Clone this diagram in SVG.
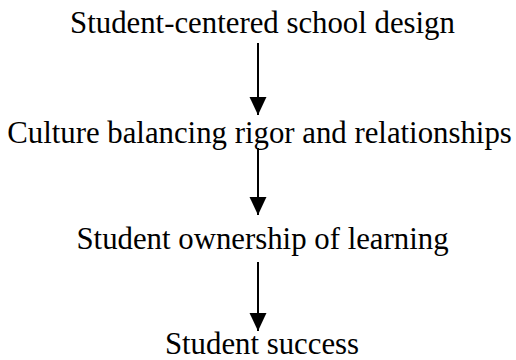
<svg xmlns="http://www.w3.org/2000/svg" width="516" height="360" viewBox="0 0 516 360">
<style>
.lbl{font-family:"Liberation Serif","Times New Roman",serif;font-size:30.8px;fill:#000;text-anchor:middle}
.conn{stroke:#000;stroke-width:2;fill:none}
</style>
<defs>
<marker id="ah" markerUnits="userSpaceOnUse" markerWidth="18" markerHeight="18" refX="17" refY="8" orient="auto" viewBox="0 0 17 16">
<path d="M0,0 L17,8 L0,16 Z" fill="#000"/>
</marker>
</defs>
<rect width="516" height="360" fill="#fff"/>
<g id="connectors">
<line class="conn" x1="258" y1="43" x2="258" y2="115" marker-end="url(#ah)"/>
<line class="conn" x1="258" y1="148" x2="258" y2="215" marker-end="url(#ah)"/>
<line class="conn" x1="258" y1="262" x2="258" y2="331" marker-end="url(#ah)"/>
</g>
<g id="node1"><text class="lbl" x="262.5" y="33">Student-centered school design</text></g>
<g id="node2"><text class="lbl" x="259.5" y="143">Culture balancing rigor and relationships</text></g>
<g id="node3"><text class="lbl" x="262.5" y="249">Student ownership of learning</text></g>
<g id="node4"><text class="lbl" x="262" y="354">Student success</text></g>
</svg>
